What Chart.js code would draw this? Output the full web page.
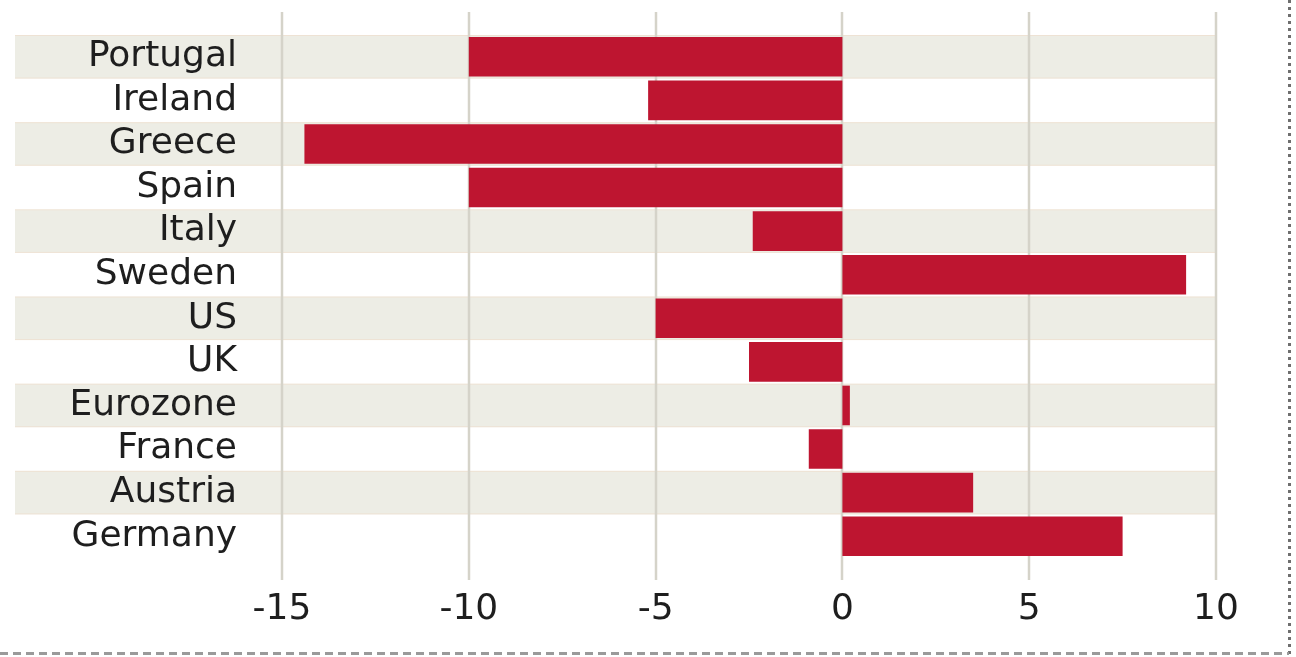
<!DOCTYPE html>
<html>
<head>
<meta charset="utf-8">
<script src="https://cdn.jsdelivr.net/npm/chart.js@4"></script>
<style>
  html, body { margin: 0; padding: 0; background: #ffffff; }
  #wrap { position: relative; width: 1296px; height: 657px; }
</style>
</head>
<body>
<div id="wrap"><canvas id="c"></canvas></div>
<script>
const countries = ["Portugal", "Ireland", "Greece", "Spain", "Italy", "Sweden", "US", "UK", "Eurozone", "France", "Austria", "Germany"];
const values = [-10.0, -5.2, -14.4, -10.0, -2.4, 9.2, -5.0, -2.5, 0.2, -0.9, 3.5, 7.5];
const xTicks = [-15, -10, -5, 0, 5, 10];

const decor = {
  id: 'decor',
  beforeDraw(chart) {
    const ctx = chart.ctx;
    const ca = chart.chartArea;
    const ys = chart.scales.y;
    const xs = chart.scales.x;
    const rowH = (ca.bottom - ca.top) / countries.length;
    ctx.save();
    // alternating stripes
    countries.forEach((c, i) => {
      if (i % 2 === 0) {
        const yc = ys.getPixelForValue(i);
        ctx.fillStyle = '#edede5';
        ctx.fillRect(15, yc - rowH / 2, ca.right - 15, rowH);
        ctx.fillStyle = 'rgba(240,205,180,0.35)';
        ctx.fillRect(15, yc + rowH / 2 - 1, ca.right - 15, 1);
        ctx.fillRect(15, yc - rowH / 2, ca.right - 15, 1);
      }
    });
    // vertical grid lines
    ctx.strokeStyle = '#d5d3c9';
    ctx.lineWidth = 2.5;
    xTicks.forEach(v => {
      const x = Math.round(xs.getPixelForValue(v));
      ctx.beginPath();
      ctx.moveTo(x, 12);
      ctx.lineTo(x, 580);
      ctx.stroke();
    });
    ctx.restore();
  },
  afterDraw(chart) {
    const ctx = chart.ctx;
    ctx.save();
    ctx.strokeStyle = '#6f6f6f';
    ctx.lineWidth = 3;
    ctx.setLineDash([3, 4]);
    ctx.beginPath();
    ctx.moveTo(1289.5, 0);
    ctx.lineTo(1289.5, 654);
    ctx.stroke();
    ctx.strokeStyle = '#9a9a9a';
    ctx.lineWidth = 3;
    ctx.setLineDash([8, 5]);
    ctx.beginPath();
    ctx.moveTo(0, 653.5);
    ctx.lineTo(1289, 653.5);
    ctx.stroke();
    ctx.restore();
  }
};

Chart.defaults.font.family = "'DejaVu Sans', sans-serif";
Chart.defaults.color = '#1e1e1e';

new Chart(document.getElementById('c'), {
  type: 'bar',
  data: {
    labels: countries,
    datasets: [{
      data: values,
      backgroundColor: '#be1530',
      borderWidth: 0,
      barPercentage: 0.91,
      categoryPercentage: 1.0
    }]
  },
  options: {
    indexAxis: 'y',
    responsive: true,
    maintainAspectRatio: false,
    animation: false,
    layout: { padding: { top: 35, right: 80, bottom: 0, left: 0 } },
    plugins: { legend: { display: false }, tooltip: { enabled: false } },
    scales: {
      x: {
        type: 'linear',
        min: -15,
        max: 10,
        grid: { display: false },
        border: { display: false },
        afterFit(scale) { scale.height = 99; },
        afterBuildTicks(scale) { scale.ticks = xTicks.map(v => ({ value: v })); },
        ticks: {
          padding: 22,
          font: { size: 36 },
          color: '#1e1e1e',
          callback: v => String(v)
        }
      },
      y: {
        grid: { display: false },
        border: { display: false },
        afterFit(scale) { scale.width = 282; scale.paddingTop = 0; scale.paddingBottom = 0; },
        ticks: {
          autoSkip: false,
          padding: 37,
          font: { size: 36 },
          color: '#1e1e1e'
        }
      }
    }
  },
  plugins: [decor]
});
</script>
</body>
</html>
